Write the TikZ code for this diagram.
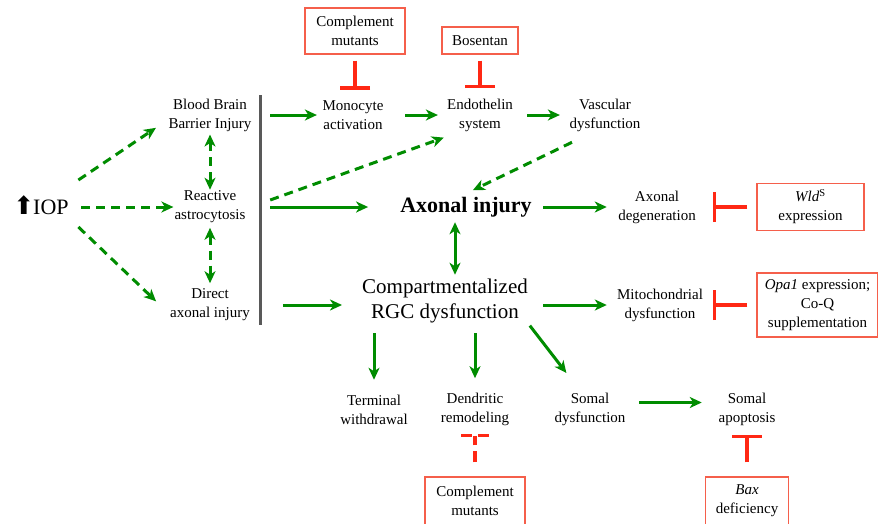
\documentclass[tikz,border=0pt]{standalone}
\usepackage{fontspec}
\setmainfont{Liberation Serif}
\newfontfamily\arrowfont{DejaVu Sans}
\usepackage{xcolor}
\usepackage{tikz}
\usetikzlibrary{arrows.meta}

\definecolor{pathgreen}{RGB}{0,140,0}
\definecolor{blockred}{RGB}{255,40,20}
\definecolor{boxred}{RGB}{245,95,75}

\begin{document}
\begin{tikzpicture}[x=1pt, y=-1pt,
  >={Stealth[length=12pt,width=11pt,inset=3.5pt]},
  lbl/.style={align=center, inner sep=0pt, font=\fontsize{15}{19}\selectfont},
  rbox/.style={draw=boxred, line width=1.3pt, align=center, inner sep=0pt,
               font=\fontsize{15}{19}\selectfont},
  arr/.style={draw=pathgreen, line width=3pt, ->},
  darr/.style={arr, dash pattern=on 9pt off 6pt},
  ddarr/.style={darr, <->},
  blk/.style={draw=blockred, line width=3.2pt, -{Bar[width=30pt]}},
  dblk/.style={draw=blockred, line width=3.2pt, dash pattern=on 11pt off 6pt}
]
\useasboundingbox (0,0) rectangle (878,523);

%% Left column
\node[inner sep=0pt, font=\fontsize{22}{24}\selectfont] (iop) at (41,207)
  {\smash{\arrowfont\fontsize{25}{24}\selectfont ⬆}\kern-1pt IOP};
\node[lbl] (bbb) at (210,115) {Blood Brain\\Barrier Injury};
\node[lbl] (reac) at (210,207) {Reactive\\astrocytosis};
\node[lbl] (direct) at (210,305) {Direct\\axonal injury};

\coordinate (bartop) at (260,95);
\coordinate (barbot) at (260,325);
\draw[line width=3pt, draw=black!65] (bartop) -- (barbot);

\draw[darr, shorten >=1pt] ([shift={(9.5,-27)}]iop.east) -- ([shift={(-11.6,-4.25)}]bbb.south west);
\draw[darr, shorten <=12.5pt, shorten >=1pt] (iop.east) -- (reac.west);
\draw[darr, shorten >=1pt] ([shift={(9.5,20)}]iop.east) -- ([shift={(-13.2,-3)}]direct.west);
\draw[ddarr, shorten <=3pt, shorten >=1pt] (bbb.south) -- (reac.north);
\draw[ddarr, shorten <=4.5pt, shorten >=5.5pt] (reac.south) -- (direct.north);

%% Top row
\node[lbl] (mono) at (353,115) {Monocyte\\activation};
\node[lbl] (endo) at (480,115) {Endothelin\\system};
\node[lbl] (vasc) at (605,115) {Vascular\\dysfunction};

\node[rbox, minimum width=100pt, minimum height=46pt] (cm1) at (355,31) {Complement\\mutants};
\node[rbox, minimum width=76pt, minimum height=27pt] (bos) at (480,40.5) {Bosentan};

\draw[arr, shorten <=18.5pt, shorten >=5.5pt] (bbb.east) -- (mono.west);
\draw[arr, shorten <=21.5pt, shorten >=9pt] (mono.east) -- (endo.west);
\draw[arr, shorten <=14pt, shorten >=9.5pt] (endo.east) -- (vasc.west);
\draw[blk, shorten <=6pt, shorten >=10.75pt] (cm1.south) -- (cm1.south |- mono.north);
\draw[blk, shorten <=6pt, shorten >=10.75pt] (bos.south) -- (endo.north);

%% Axonal injury and RGC dysfunction
\node[inner sep=0pt, font=\fontsize{22}{24}\selectfont\bfseries] (axinj) at (466,207) {Axonal injury};
\node[align=center, inner sep=0pt, font=\fontsize{21}{25}\selectfont] (comp) at (445,301)
  {Compartmentalized\\RGC dysfunction};

\draw[darr, shorten >=1pt] ([shift={(24.6,-7)}]reac.east) -- ([shift={(-2.1,5.75)}]endo.south west);
\draw[darr, shorten >=1pt] ([shift={(-33,10.75)}]vasc.south) -- ([shift={(6,-6.2)}]axinj.north);
\draw[arr, shorten <=24.5pt, shorten >=32pt] (reac.east) -- (axinj.west);
\draw[arr, <->, shorten <=5pt, shorten >=4pt] ([xshift=-11pt]axinj.south) -- ([xshift=10pt]comp.north);
\draw[arr, shorten <=33pt, shorten >=20pt] (direct.east) -- (direct.east -| comp.west);

%% Right column
\node[lbl] (axdeg) at (657,207) {Axonal\\degeneration};
\node[lbl] (mito) at (660,305) {Mitochondrial\\dysfunction};
\node[rbox, minimum width=107pt, minimum height=47pt] (wld) at (810.5,207)
  {\textit{Wld}\textsuperscript{S}\\expression};
\node[rbox, minimum width=121pt, minimum height=64pt] (opa) at (817.5,305)
  {\textit{Opa1} expression;\\Co-Q\\supplementation};

\draw[arr, shorten <=11.3pt, shorten >=11.3pt] (axinj.east) -- (axdeg.west);
\draw[arr, shorten <=15.2pt, shorten >=10.1pt] (mito.west -| comp.east) -- (mito.west);
\draw[blk, shorten <=9pt, shorten >=17.3pt] (wld.west) -- (wld.west -| axdeg.east);
\draw[blk, shorten <=9pt, shorten >=10.1pt] (opa.west) -- (opa.west -| mito.east);

%% Bottom row
\node[lbl] (term) at (374,409.5) {Terminal\\withdrawal};
\node[lbl] (dend) at (475,409.5) {Dendritic\\remodeling};
\node[lbl] (somd) at (590,409.5) {Somal\\dysfunction};
\node[lbl] (soma) at (747,409.5) {Somal\\apoptosis};
\node[rbox, minimum width=100pt, minimum height=48pt] (cm2) at (475,501) {Complement\\mutants};
\node[rbox, minimum width=83pt, minimum height=48pt] (bax) at (747,501) {\textit{Bax}\\deficiency};

\draw[arr, shorten <=10pt, shorten >=14.75pt] (term.north |- comp.south) -- (term.north);
\draw[arr, shorten <=10pt, shorten >=14.75pt] (dend.north |- comp.south) -- (dend.north);
\draw[arr, shorten <=3pt] (comp.south east) -- ([shift={(12,-20)}]somd.north west);
\draw[arr, shorten <=13.6pt, shorten >=16.7pt] ([yshift=7pt]somd.east) -- ([yshift=7pt]soma.west);
\draw[dblk, shorten <=14pt, shorten >=9.75pt] (cm2.north) -- (dend.south);
\draw[dblk] ([shift={(-14,9.75)}]dend.south) -- ([shift={(14,9.75)}]dend.south);
\draw[blk, shorten <=14pt, shorten >=8.75pt] (bax.north) -- (soma.south);
\end{tikzpicture}
\end{document}
